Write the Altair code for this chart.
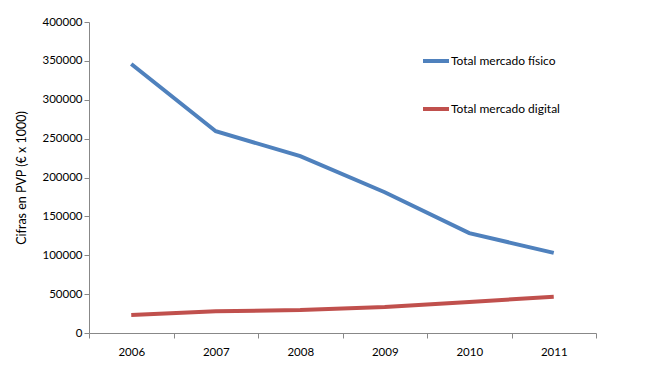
import altair as alt
import pandas as pd

years = ["2006", "2007", "2008", "2009", "2010", "2011"]
fisico = [346000, 259500, 227500, 181000, 128500, 103000]
digital = [23000, 28000, 29500, 33500, 40000, 46500]
series = ["Total mercado físico", "Total mercado digital"]
colors = ["#4F81BD", "#C0504D"]

rows = []
for name, vals in zip(series, [fisico, digital]):
    for y, v in zip(years, vals):
        rows.append({"Año": y, "Valor": v, "Serie": name})
df = pd.DataFrame(rows)

chart = alt.Chart(df).mark_line(strokeWidth=4, interpolate="linear").encode(
    x=alt.X("Año:O", title=None,
            scale=alt.Scale(type="band", paddingInner=0, paddingOuter=0),
            axis=alt.Axis(labelAngle=0, tickBand="extent", labelPadding=8)),
    y=alt.Y("Valor:Q", title="Cifras en PVP (€ x 1000)",
            scale=alt.Scale(domain=[0, 400000], nice=False),
            axis=alt.Axis(values=list(range(0, 400001, 50000)), format="d",
                          titlePadding=13)),
    color=alt.Color("Serie:N", sort=series,
                    scale=alt.Scale(domain=series, range=colors),
                    legend=alt.Legend(title=None, orient="none", legendX=332, legendY=24,
                                      symbolType="stroke", symbolSize=676,
                                      symbolStrokeWidth=4, labelOffset=0,
                                      rowPadding=25, labelFontSize=12,
                                      labelFont="Lato", labelColor="#000")),
).properties(
    width=507, height=311,
    autosize=alt.AutoSizeParams(type="none"),
    padding={"left": 81, "top": 14, "right": 46, "bottom": 34},
).configure_view(stroke=None).configure_axis(
    grid=False, domainColor="#888", tickColor="#888", tickSize=5,
    labelFont="Lato", labelFontSize=11.5, labelColor="#000",
    titleFont="Lato", titleFontSize=12.5, titleFontWeight="normal", titleColor="#000",
)

chart.save("out.html", embed_options={"renderer": "svg", "actions": False})
